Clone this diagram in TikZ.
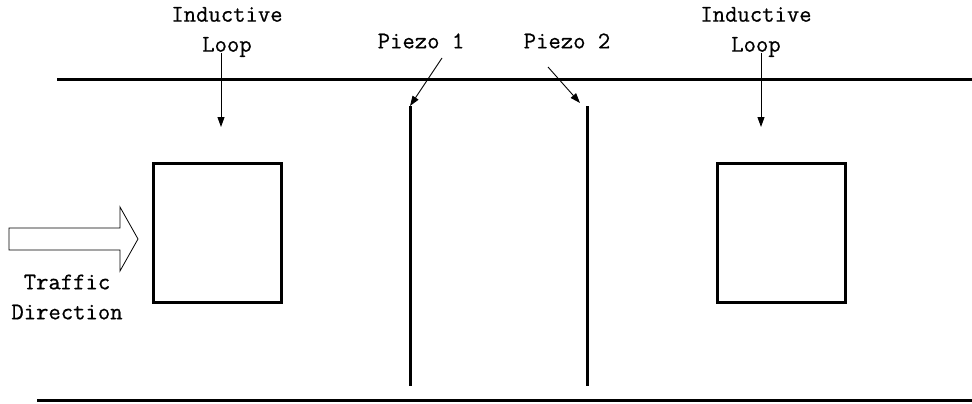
\documentclass[tikz,border=0pt]{standalone}
\usepackage{fontspec}
\setmonofont[FakeBold=0.6]{Latin Modern Mono}
\usetikzlibrary{arrows.meta}
\begin{document}
\begin{tikzpicture}[x=1pt,y=-1pt,
  road/.style={line width=3pt},
  sensor/.style={line width=3pt},
  loopbox/.style={draw,line width=3pt,minimum width=128pt,minimum height=139pt,inner sep=0pt},
  lbl/.style={font=\ttfamily\fontsize{24}{30}\selectfont,align=center,inner sep=0pt},
  pointer/.style={line width=0.9pt,-{Triangle[length=10pt,width=7pt]}},
  flow/.style={line width=0.8pt,line join=miter}]
\useasboundingbox (0,0) rectangle (972,404);

% road edges
\coordinate (rtl) at (57,80);
\coordinate (rtr) at (972,80);
\coordinate (rbl) at (37,400);
\coordinate (rbr) at (972,400);
\draw[road] (rtl) -- (rtr);
\draw[road] (rbl) -- (rbr);

% inductive loops
\node[loopbox] (loopA) at (217,232.5) {};
\node[loopbox] (loopB) at (781,232.5) {};

% piezo sensors
\coordinate (p1t) at (410,106);
\coordinate (p1b) at (410,386);
\coordinate (p2t) at (587,106);
\coordinate (p2b) at (587,386);
\draw[sensor] (p1t) -- (p1b);
\draw[sensor] (p2t) -- (p2b);

% labels
\node[lbl] (labA) at (227,32) {Inductive\\Loop};
\node[lbl] (labB) at (756,32) {Inductive\\Loop};
\node[lbl] (labP1) at (421,41) {Piezo 1};
\node[lbl] (labP2) at (567,41) {Piezo 2};
\node[lbl] (labT) at (67,297) {Traffic\\Direction};

% pointers
\coordinate (tA) at (221,127);
\coordinate (tB) at (761,127);
\coordinate (sA) at (221,53);
\coordinate (sB) at (761,53);
\draw[pointer] (sA) -- (tA);
\draw[pointer] (sB) -- (tB);
\coordinate (sP1) at (442,58);
\coordinate (sP2) at (548,67);
\coordinate (tP2) at (580,103);
\draw[pointer] (sP1) -- (p1t);
\draw[pointer] (sP2) -- (tP2);

% direction of travel (outlined block arrow)
\draw[flow] (9,228) -- (120,228) -- (120,207) -- (138,239) -- (120,271)
  -- (120,250) -- (9,250) -- cycle;
\end{tikzpicture}
\end{document}
